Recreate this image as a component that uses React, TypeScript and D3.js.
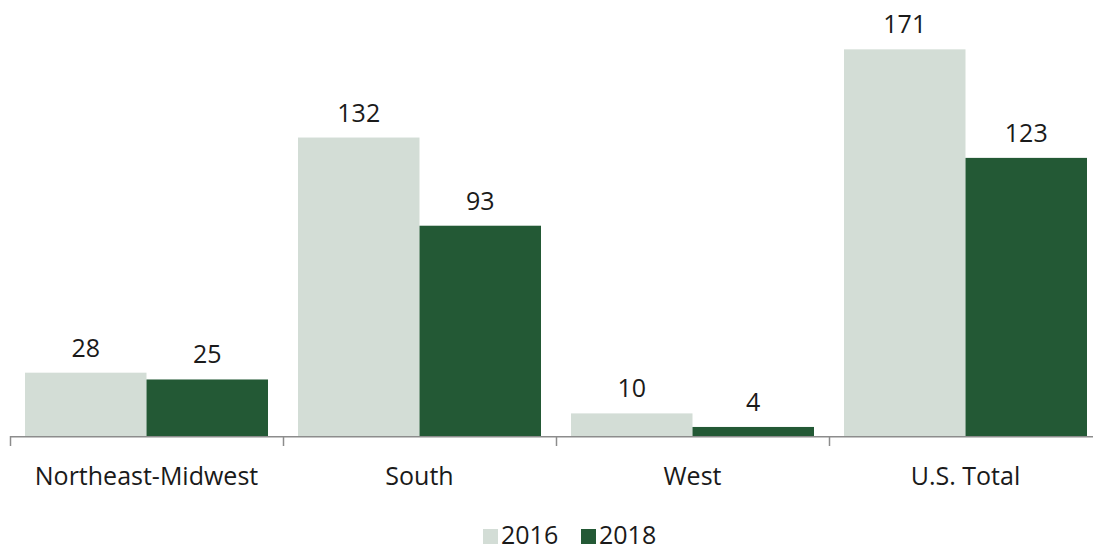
import React from "react";
import * as d3 from "d3";

const categories = ["Northeast-Midwest", "South", "West", "U.S. Total"];
const seriesNames = ["2016", "2018"];
const values2016 = [28, 132, 10, 171];
const values2018 = [25, 93, 4, 123];
const colors = ["#d3ddd6", "#235935"];

const W = 1093;
const H = 546;
const FONT = "'Open Sans', 'Noto Sans', sans-serif";

export default function App() {
  const x0 = d3.scaleBand<string>().domain(categories).range([10, 1102]).paddingInner(0).paddingOuter(0);
  const x1 = d3.scaleBand<string>().domain(seriesNames).range([15, x0.bandwidth() - 15]).padding(0);
  const y = d3.scaleLinear().domain([0, 180]).range([436, 29]);
  const series = [values2016, values2018];
  const fs = 25;

  return (
    <svg width={W} height={H} style={{ position: "absolute", left: 0, top: 0, background: "#fff" }}>
      {categories.map((c, i) => (
        <g key={c} transform={`translate(${x0(c)},0)`}>
          {seriesNames.map((s, j) => {
            const v = series[j][i];
            const bx = x1(s)!;
            return (
              <g key={s}>
                <rect x={bx} y={y(v)} width={x1.bandwidth()} height={y(0) - y(v)} fill={colors[j]} />
                <text
                  x={bx + x1.bandwidth() / 2}
                  y={y(v) - 16}
                  textAnchor="middle"
                  fontFamily={FONT}
                  fontSize={fs}
                  fill="#1a1a1a"
                >
                  {v}
                </text>
              </g>
            );
          })}
          <text x={x0.bandwidth() / 2} y={485} textAnchor="middle" fontFamily={FONT} fontSize={fs} fill="#1a1a1a">
            {c}
          </text>
        </g>
      ))}
      <line x1={10} x2={W} y1={436.75} y2={436.75} stroke="#8c8c8c" strokeWidth={1.5} />
      {categories.map((c) => (
        <line key={c} x1={x0(c)! + 0.5} x2={x0(c)! + 0.5} y1={436} y2={446} stroke="#8c8c8c" strokeWidth={1.5} />
      ))}
      {seriesNames.map((s, j) => {
        const lx = [483, 581][j];
        return (
          <g key={s}>
            <rect x={lx} y={529} width={15} height={15} fill={colors[j]} />
            <text x={lx + 18} y={544} fontFamily={FONT} fontSize={fs} fill="#1a1a1a">
              {s}
            </text>
          </g>
        );
      })}
    </svg>
  );
}
